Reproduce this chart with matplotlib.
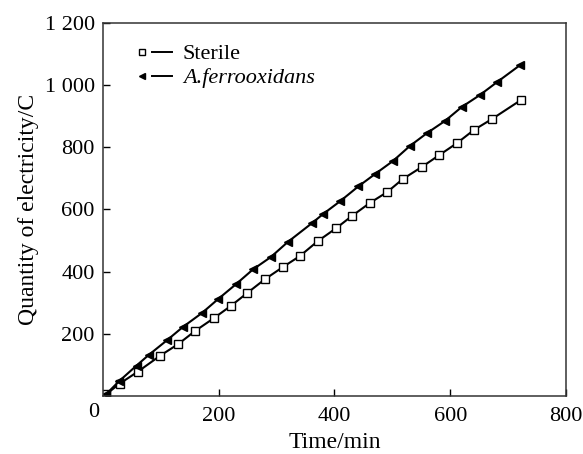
import matplotlib
matplotlib.use("Agg")
import matplotlib.pyplot as plt
from matplotlib.lines import Line2D
from matplotlib.legend_handler import HandlerTuple
from matplotlib.ticker import FuncFormatter

plt.rcParams['font.family'] = ['Liberation Serif', 'DejaVu Serif']
plt.rcParams['font.size'] = 16

# Sterile
t_ster = [5, 29, 60, 99, 130, 159, 192, 221, 249, 280, 311, 340, 371, 403, 430,
          461, 491, 518, 551, 581, 612, 641, 672, 722]
q_ster = [5, 40, 78, 130, 167, 209, 251, 290, 331, 376, 415, 450, 498, 540, 579,
          621, 656, 698, 737, 775, 814, 856, 891, 952]

# A.ferrooxidans
t_af = [5, 28, 58, 79, 111, 138, 171, 199, 230, 259, 290, 319, 361, 380, 410,
        441, 470, 501, 530, 560, 591, 620, 651, 681, 721]
q_af = [5, 48, 98, 132, 180, 222, 267, 312, 360, 407, 447, 495, 556, 585, 627,
        674, 714, 756, 804, 846, 885, 930, 968, 1010, 1065]

xticks = [200, 400, 600, 800]
yticks = [200, 400, 600, 800, 1000, 1200]

fig = plt.figure(figsize=(5.83, 4.54), dpi=100)
ax = fig.add_axes([0.1767, 0.1278, 0.7941, 0.8215])

ax.plot(t_ster, q_ster, color='black', lw=1.5, marker='s', ms=5.5,
        mfc='white', mec='black', mew=1.0)
ax.plot(t_af, q_af, color='black', lw=1.5, marker='<', ms=5.5,
        mfc='black', mec='black')

ax.set_xlim(0, 800)
ax.set_ylim(0, 1200)
ax.set_xticks(xticks)
ax.set_yticks(yticks)
ax.yaxis.set_major_formatter(FuncFormatter(lambda v, p: '{:,}'.format(int(v)).replace(',', ' ')))
ax.tick_params(direction='in', length=5, width=1, top=False, right=False)
ax.tick_params(axis='x', pad=8)
ax.tick_params(axis='y', pad=6)
for s in ax.spines.values():
    s.set_linewidth(1.1)
    s.set_color('#333333')

ax.text(-0.008, -0.018, '0', transform=ax.transAxes, ha='right', va='top')

ax.set_xlabel('Time/min', fontsize=17, labelpad=4.5)
ax.set_ylabel('Quantity of electricity/C', fontsize=17, labelpad=4)

h_s = (Line2D([], [], ls='none', marker='s', ms=5, mfc='white', mec='black'),
       Line2D([], [], color='black', lw=1.4))
h_a = (Line2D([], [], ls='none', marker='<', ms=5, mfc='black', mec='black'),
       Line2D([], [], color='black', lw=1.4))
leg = ax.legend([h_s, h_a], ['Sterile', 'A.ferrooxidans'],
                handler_map={tuple: HandlerTuple(ndivide=None, pad=0.0)},
                loc='upper left', bbox_to_anchor=(0.062, 0.944), frameon=False,
                handlelength=1.8, handletextpad=0.5, labelspacing=0.15,
                borderpad=0, borderaxespad=0)
leg.get_texts()[1].set_style('italic')

fig.savefig('out.png', dpi=100)
